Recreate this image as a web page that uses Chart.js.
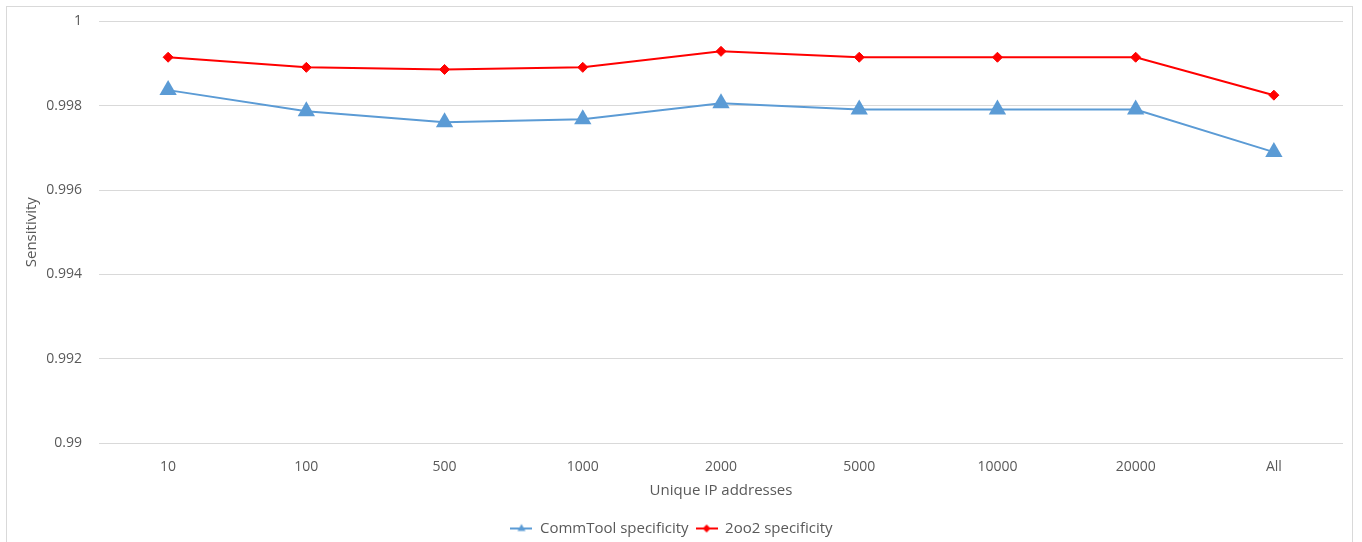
<!DOCTYPE html>
<html>
<head>
<meta charset="utf-8">
<script src="https://cdn.jsdelivr.net/npm/chart.js@4/dist/chart.umd.min.js"></script>
<style>
  html, body { margin: 0; padding: 0; background: #fff; overflow: hidden; }
  #wrap { position: relative; width: 1362px; height: 542px; overflow: hidden; }
  #frame { position: absolute; left: 6px; top: 6px; width: 1347px; height: 560px; border: 1px solid #d9d9d9; box-sizing: border-box; }
  /* the plot top sits a few pixels low, so the canvas is pulled up */
  canvas { position: absolute; left: 0; top: -4px; }
</style>
</head>
<body>
<div id="wrap">
  <div id="frame"></div>
  <canvas id="chart" width="1362" height="546"></canvas>
</div>
<script>
// categories and values
const categories = ['10', '100', '500', '1000', '2000', '5000', '10000', '20000', 'All'];
const commToolSpec = [0.99837, 0.99787, 0.99761, 0.99768, 0.99806, 0.99791, 0.99791, 0.99791, 0.99690];
const twoOo2Spec = [0.99915, 0.99891, 0.99886, 0.99891, 0.99929, 0.99915, 0.99915, 0.99915, 0.99825];
const yTicks = [0.99, 0.992, 0.994, 0.996, 0.998, 1];

const blue = '#5B9BD5';
const red = '#FF0000';
const fontFamily = "'Open Sans', 'Noto Sans', sans-serif";
const textColor = '#595959';

// small legend icon: line with the marker in the middle
function legendIcon(color, shape) {
    const c = document.createElement('canvas');
    c.width = 22;
    c.height = 12;
    const ctx = c.getContext('2d');
    ctx.strokeStyle = color;
    ctx.fillStyle = color;
    ctx.lineWidth = 2;
    ctx.beginPath();
    ctx.moveTo(0, 6);
    ctx.lineTo(22, 6);
    ctx.stroke();
    ctx.beginPath();
    if (shape === 'triangle') {
        ctx.moveTo(11, 1.5);
        ctx.lineTo(15, 8.5);
        ctx.lineTo(7, 8.5);
    } else {
        ctx.moveTo(11, 2);
        ctx.lineTo(15, 6);
        ctx.lineTo(11, 10);
        ctx.lineTo(7, 6);
    }
    ctx.closePath();
    ctx.fill();
    return c;
}

const icons = [legendIcon(blue, 'triangle'), legendIcon(red, 'diamond')];

new Chart(document.getElementById('chart').getContext('2d'), {
    type: 'line',
    data: {
        labels: categories,
        datasets: [{
            label: 'CommTool specificity',
            data: commToolSpec,
            borderColor: blue,
            backgroundColor: blue,
            borderWidth: 2,
            pointStyle: 'triangle',
            pointRadius: 10,
            pointBorderWidth: 0,
            tension: 0
        }, {
            label: '2oo2 specificity',
            data: twoOo2Spec,
            borderColor: red,
            backgroundColor: red,
            borderWidth: 2,
            pointStyle: 'rectRot',
            pointRadius: 5,
            pointBorderWidth: 1,
            tension: 0
        }]
    },
    options: {
        responsive: false,
        animation: false,
        layout: {
            autoPadding: false,
            padding: { left: 0, right: 19, top: 17, bottom: -4 }
        },
        plugins: {
            legend: {
                position: 'bottom',
                labels: {
                    font: { family: fontFamily, size: 15 },
                    color: textColor,
                    usePointStyle: true,
                    pointStyleWidth: 22,
                    padding: 7,
                    generateLabels: function(chart) {
                        return chart.data.datasets.map((ds, i) => ({
                            text: ds.label,
                            pointStyle: icons[i],
                            fillStyle: ds.borderColor,
                            strokeStyle: ds.borderColor,
                            lineWidth: 0,
                            fontColor: textColor,
                            datasetIndex: i
                        }));
                    }
                }
            },
            tooltip: { enabled: false }
        },
        scales: {
            x: {
                offset: true,
                grid: { display: false, drawTicks: false },
                border: { display: false },
                ticks: {
                    color: textColor,
                    font: { family: fontFamily, size: 14 },
                    padding: 16,
                    maxRotation: 0
                },
                title: {
                    display: true,
                    text: 'Unique IP addresses',
                    color: textColor,
                    font: { family: fontFamily, size: 15 },
                    padding: { top: 0, bottom: 14 }
                },
                afterFit: function(scale) { scale.height = 71; }
            },
            y: {
                min: 0.99,
                max: 1,
                afterBuildTicks: function(scale) {
                    scale.ticks = yTicks.map(v => ({ value: v }));
                },
                grid: { color: '#d9d9d9', drawTicks: false },
                border: { display: false },
                ticks: {
                    color: textColor,
                    font: { family: fontFamily, size: 14 },
                    padding: 17,
                    callback: function(v) { return String(Number(v.toFixed(3))); }
                },
                title: {
                    display: true,
                    text: 'Sensitivity',
                    color: textColor,
                    font: { family: fontFamily, size: 15 },
                    padding: { top: 23, bottom: 0 }
                },
                afterFit: function(scale) { scale.width = 99; }
            }
        }
    }
});
</script>
</body>
</html>
